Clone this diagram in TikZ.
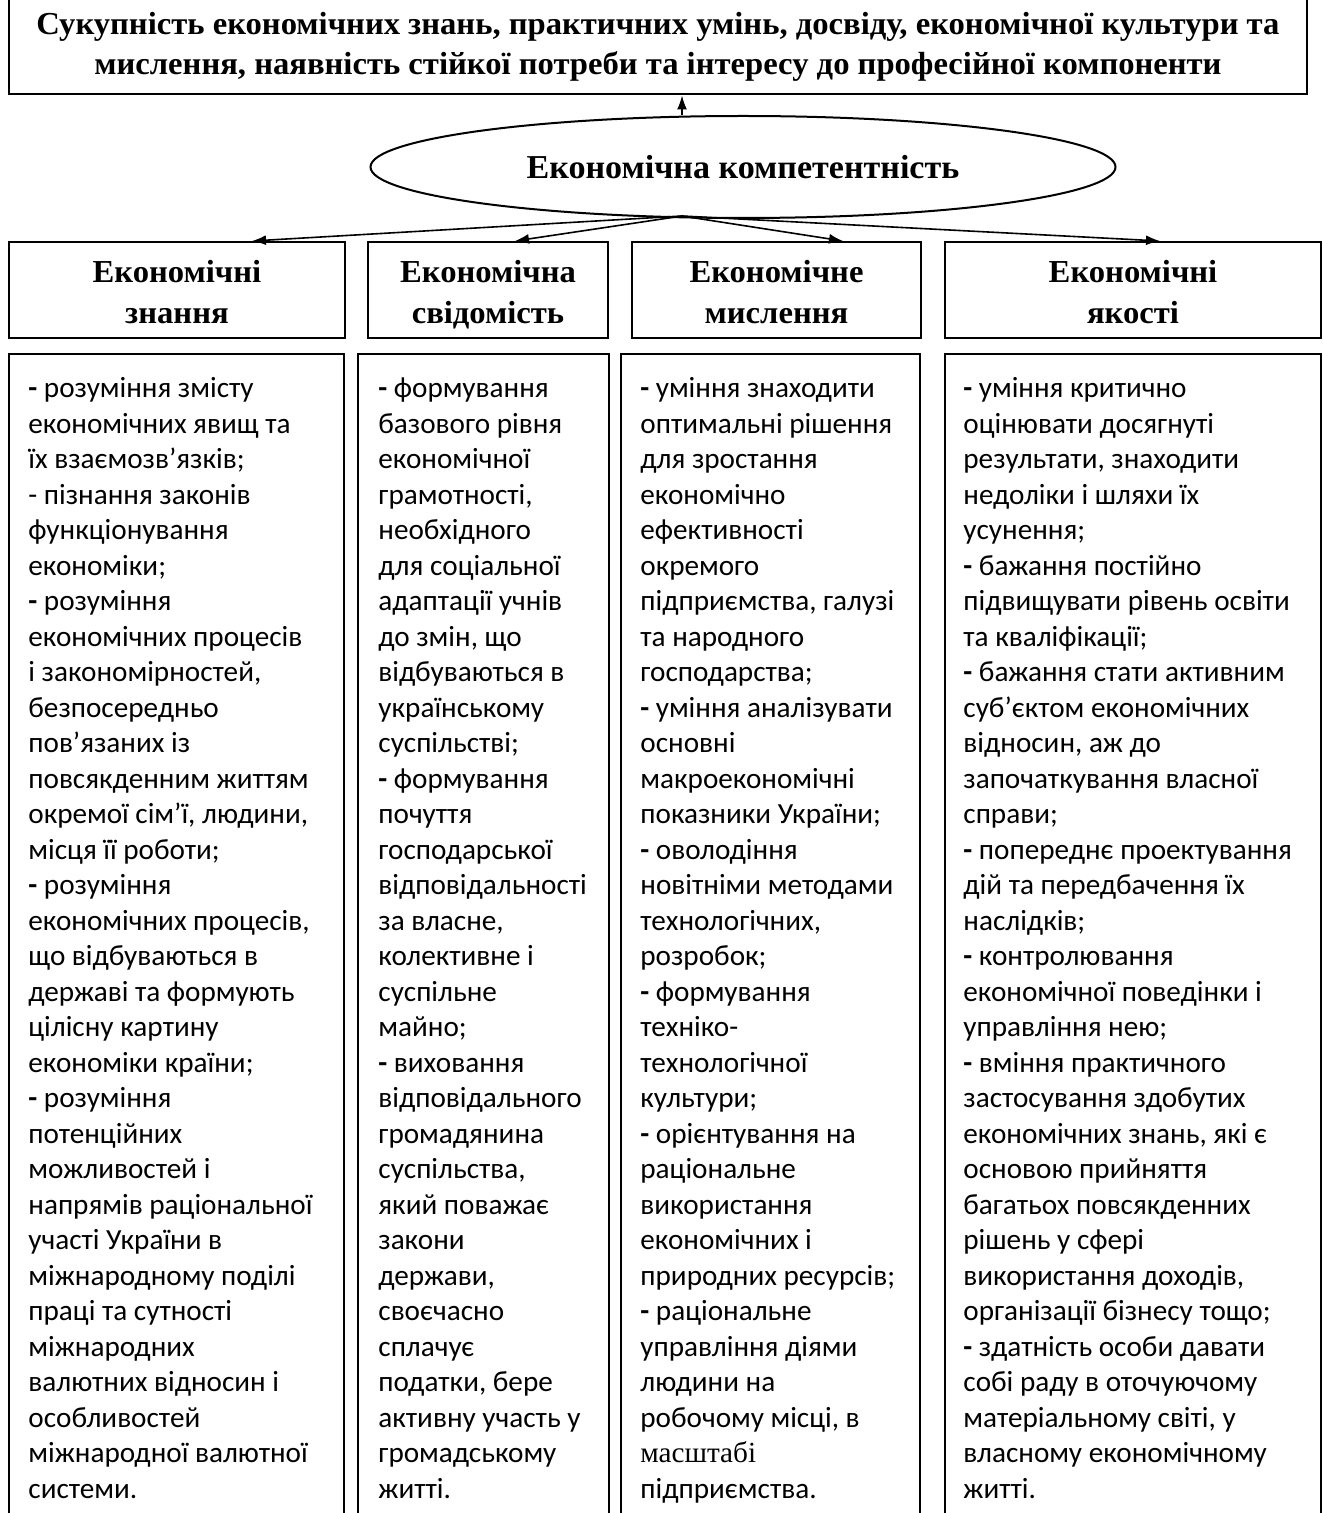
\documentclass[tikz,border=0pt]{standalone}
\usepackage{fontspec}
\setmainfont{Carlito}
\newfontfamily\headfont[FakeStretch=1.02]{Liberation Serif}
\newfontfamily\serifword{Liberation Serif}
\newcommand{\bdash}{\textbf{-}}
\usetikzlibrary{shapes.geometric,arrows.meta}

\begin{document}
\begin{tikzpicture}[x=0.5pt, y=-0.5pt,
  box/.style={draw, line width=1pt, inner sep=0pt},
  head/.style={font=\headfont\bfseries\fontsize{16}{20}\selectfont, align=center},
  comphead/.style={box, font=\headfont\bfseries\fontsize{16}{20.5}\selectfont, align=center,
    minimum height=48pt, text height=34pt, text depth=0pt},
  body/.style={font=\fontsize{14.6}{17.75}\selectfont, align=left, anchor=base west, inner sep=0pt},
  arr/.style={->, >={Latex[length=7pt,width=5pt]}, line width=0.8pt}]
\useasboundingbox (0,0) rectangle (1322,1513);
% title and ellipse
\node[box, head, minimum width=649pt, minimum height=47.5pt] (title) at (658,47)
  {Сукупність економічних знань, практичних умінь, досвіду, економічної культури та\\
   мислення, наявність стійкої потреби та інтересу до професійної компоненти};
\node[box, head, ellipse, minimum width=372.5pt, minimum height=51pt,
  font=\headfont\bfseries\fontsize{16.7}{20}\selectfont] (comp) at (743,167)
  {Економічна компетентність};
\draw[arr] (comp.north -| 682,0) -- (title.south -| 682,0);
% four components
\node[comphead, minimum width=168pt] (h1) at (177,290) {Економічні\\знання};
\node[comphead, minimum width=120pt] (h2) at (488,290) {Економічна\\свідомість};
\node[comphead, minimum width=144.5pt] (h3) at (776.5,290) {Економічне\\мислення};
\node[comphead, minimum width=188pt] (h4) at (1133,290) {Економічні\\якості};
\coordinate (hub) at (682,216);
\draw[arr] (hub) -- (h1.north -| 252,0);
\draw[arr] (hub) -- (h2.north -| 515,0);
\draw[arr] (hub) -- (h3.north -| 843,0);
\draw[arr] (hub) -- (h4.north -| 1160,0);
% content boxes
\node[box, minimum width=167.5pt, minimum height=585.5pt] (c1) at (176.5,939.5) {};
\node[box, minimum width=125.5pt, minimum height=585.5pt] (c2) at (483.5,939.5) {};
\node[box, minimum width=149.5pt, minimum height=585.5pt] (c3) at (770.5,939.5) {};
\node[box, minimum width=188pt, minimum height=585.5pt] (c4) at (1133,939.5) {};
\node[body] (t1) at (28,1498) {\bdash{} розуміння змісту\\
економічних явищ та\\
їх взаємозв’язків;\\
- пізнання законів\\
функціонування\\
економіки;\\
\bdash{} розуміння\\
економічних процесів\\
і закономірностей,\\
безпосередньо\\
пов’язаних із\\
повсякденним життям\\
окремої сім’ї, людини,\\
місця її роботи;\\
\bdash{} розуміння\\
економічних процесів,\\
що відбуваються в\\
державі та формують\\
цілісну картину\\
економіки країни;\\
\bdash{} розуміння\\
потенційних\\
можливостей і\\
напрямів раціональної\\
участі України в\\
міжнародному поділі\\
праці та сутності\\
міжнародних\\
валютних відносин і\\
особливостей\\
міжнародної валютної\\
системи.};
\node[body] (t2) at (378,1498) {\bdash{} формування\\
базового рівня\\
економічної\\
грамотності,\\
необхідного\\
для соціальної\\
адаптації учнів\\
до змін, що\\
відбуваються в\\
українському\\
суспільстві;\\
\bdash{} формування\\
почуття\\
господарської\\
відповідальності\\
за власне,\\
колективне і\\
суспільне\\
майно;\\
\bdash{} виховання\\
відповідального\\
громадянина\\
суспільства,\\
який поважає\\
закони\\
держави,\\
своєчасно\\
сплачує\\
податки, бере\\
активну участь у\\
громадському\\
житті.};
\node[body] (t3) at (640,1498) {\bdash{} уміння знаходити\\
оптимальні рішення\\
для зростання\\
економічно\\
ефективності\\
окремого\\
підприємства, галузі\\
та народного\\
господарства;\\
\bdash{} уміння аналізувати\\
основні\\
макроекономічні\\
показники України;\\
\bdash{} оволодіння\\
новітніми методами\\
технологічних,\\
розробок;\\
\bdash{} формування\\
техніко-\\
технологічної\\
культури;\\
\bdash{} орієнтування на\\
раціональне\\
використання\\
економічних і\\
природних ресурсів;\\
\bdash{} раціональне\\
управління діями\\
людини на\\
робочому місці, в\\
{\serifword масштабі}\\
підприємства.};
\node[body] (t4) at (963,1498) {\bdash{} уміння критично\\
оцінювати досягнуті\\
результати, знаходити\\
недоліки і шляхи їх\\
усунення;\\
\bdash{} бажання постійно\\
підвищувати рівень освіти\\
та кваліфікації;\\
\bdash{} бажання стати активним\\
суб’єктом економічних\\
відносин, аж до\\
започаткування власної\\
справи;\\
\bdash{} попереднє проектування\\
дій та передбачення їх\\
наслідків;\\
\bdash{} контролювання\\
економічної поведінки і\\
управління нею;\\
\bdash{} вміння практичного\\
застосування здобутих\\
економічних знань, які є\\
основою прийняття\\
багатьох повсякденних\\
рішень у сфері\\
використання доходів,\\
організації бізнесу тощо;\\
\bdash{} здатність особи давати\\
собі раду в оточуючому\\
матеріальному світі, у\\
власному економічному\\
житті.};
\end{tikzpicture}
\end{document}
